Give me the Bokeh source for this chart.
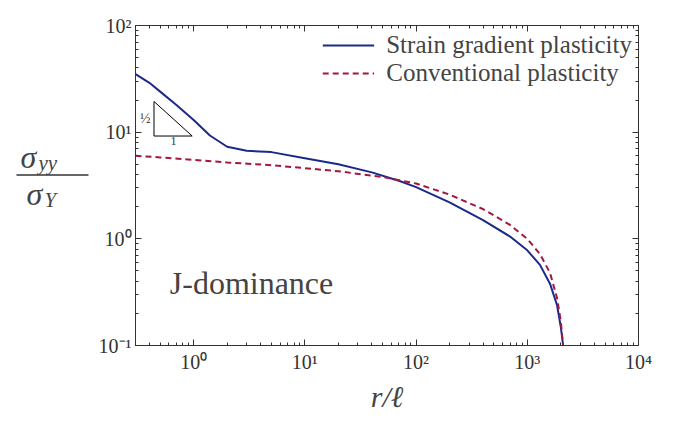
from bokeh.plotting import figure
from bokeh.models import LogAxis, Label, Legend, LegendItem, FixedTicker, Range1d
from bokeh.layouts import row
from bokeh.embed import file_html
from bokeh.resources import INLINE

r_sg = [0.3, 0.4, 0.5, 0.7, 1.0, 1.4, 2.0, 3.0, 5.0, 10, 20, 40, 70, 100, 200, 400, 700, 1000, 1300, 1600, 1850, 2000, 2100]
s_sg = [35, 29, 24, 18, 13, 9.3, 7.3, 6.7, 6.5, 5.7, 5.0, 4.2, 3.5, 3.05, 2.2, 1.5, 1.05, 0.78, 0.57, 0.38, 0.24, 0.15, 0.1]
r_cp = [0.3, 0.5, 1.0, 2.0, 5.0, 10, 20, 50, 100, 200, 400, 700, 1000, 1300, 1600, 1850, 2000, 2100]
s_cp = [6.0, 5.8, 5.5, 5.2, 4.9, 4.6, 4.3, 3.8, 3.3, 2.6, 1.9, 1.35, 1.0, 0.72, 0.48, 0.28, 0.17, 0.1]
tri_x = [0.44, 0.44, 0.97, 0.44]
tri_y = [19.4, 9.2, 9.2, 19.4]
x_ticks = [1, 10, 100, 1000, 10000]
x_labels = ["10⁰", "10¹", "10²", "10³", "10⁴"]
y_ticks = [0.1, 1, 10, 100]
y_labels = ["10⁻¹", "10⁰", "10¹", "10²"]
minor = [m * 10 ** e for e in range(-1, 4) for m in range(2, 10)]

font = "Liberation Serif"

# left strip holding the y-axis fraction label
q = figure(width=95, height=415, x_range=Range1d(0, 95), y_range=Range1d(0, 415),
           output_backend="svg", toolbar_location=None, min_border=0)
q.axis.visible = False
q.grid.visible = False
q.outline_line_color = None
lab_style = dict(text_font=font, text_font_style="italic", text_baseline="middle")
q.add_layout(Label(x=20, y=244, text="σ", text_font_size="32px", **lab_style))
q.add_layout(Label(x=38, y=237, text="yy", text_font_size="21px", **lab_style))
q.add_layout(Label(x=26, y=196, text="σ", text_font_size="32px", **lab_style))
q.add_layout(Label(x=44, y=189, text="Y", text_font_size="21px", **lab_style))
q.segment(x0=[16], y0=[221], x1=[88], y1=[221], line_color="#333333", line_width=1.5)

p = figure(width=558, height=415, x_axis_type="log", y_axis_type="log",
           x_range=Range1d(0.3, 10000), y_range=Range1d(0.1, 100),
           output_backend="svg", toolbar_location=None,
           min_border_left=31, min_border_right=15, min_border_top=25, min_border_bottom=50)
p.xgrid.visible = False
p.ygrid.visible = False
p.outline_line_color = "#333333"
xb = p.below[0]
yl = p.left[0]

for ax, t, lab in [(xb, x_ticks, x_labels), (yl, y_ticks, y_labels)]:
    ax.ticker = FixedTicker(ticks=t, minor_ticks=minor)
    ax.major_label_overrides = {v: s for v, s in zip(t, lab)}
    ax.major_label_text_font = font
    ax.major_label_text_font_size = "20px"
    ax.major_label_text_color = "#333333"
    ax.major_tick_in = 6
    ax.major_tick_out = 0
    ax.minor_tick_in = 3
    ax.minor_tick_out = 0
    ax.axis_line_color = "#333333"
    ax.major_tick_line_color = "#333333"
    ax.minor_tick_line_color = "#333333"
yl.major_label_standoff = 4

for side, tk in [("right", y_ticks), ("above", x_ticks)]:
    a = LogAxis(ticker=FixedTicker(ticks=tk, minor_ticks=minor),
                major_label_text_font_size="1px", major_label_text_alpha=0,
                major_label_standoff=0, major_tick_in=6, major_tick_out=0,
                minor_tick_in=3, minor_tick_out=0, axis_line_color="#333333",
                major_tick_line_color="#333333", minor_tick_line_color="#333333")
    p.add_layout(a, side)

l1 = p.line(r_sg, s_sg, line_color="#1a2a8c", line_width=2)
l2 = p.line(r_cp, s_cp, line_color="#a3173a", line_width=2, line_dash="6 4")
p.line(tri_x, tri_y, line_color="black", line_width=1)

leg = Legend(items=[LegendItem(label="Strain gradient plasticity", renderers=[l1]),
                    LegendItem(label="Conventional plasticity", renderers=[l2])],
             location="top_right", label_text_font=font, label_text_font_size="25px",
             border_line_color=None, background_fill_alpha=0, glyph_width=52,
             spacing=0, padding=2, margin=6, label_standoff=12)
p.add_layout(leg)

p.add_layout(Label(x=0.41, y=13.5, text="½", text_font=font, text_font_size="14px",
                   text_align="right", text_baseline="middle"))
p.add_layout(Label(x=0.66, y=9.0, text="1", text_font=font, text_font_size="13px",
                   text_align="center", text_baseline="top"))
p.add_layout(Label(x=0.61, y=0.26, text="J-dominance", text_font=font, text_font_size="32px"))

xb.axis_label = "r/ℓ"
xb.axis_label_text_font = font
xb.axis_label_text_font_style = "italic"
xb.axis_label_text_font_size = "30px"
xb.axis_label_standoff = 4

open("out.html", "w").write(file_html(row(q, p), INLINE))
